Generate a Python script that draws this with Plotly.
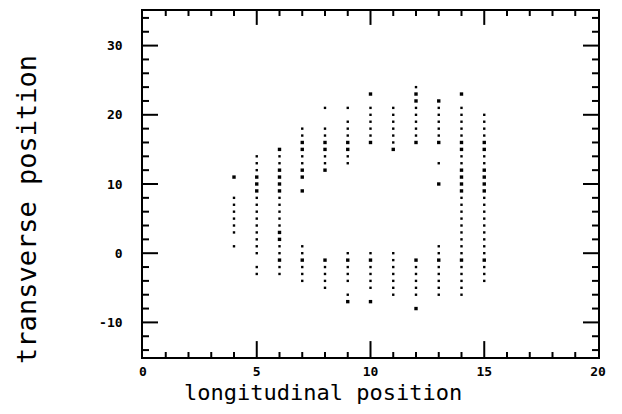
import plotly.graph_objects as go

# Longitudinal positions (columns) and the transverse positions recorded at each
col_x = [4, 5, 6, 7, 8, 9, 10, 11, 12, 13, 14, 15]
col_y = [
    [11, 8, 7, 6, 5, 4, 3, 1],
    [14, 13, 12, 11, 10, 9, 8, 7, 6, 5, 4, 3, 2, 1, 0, -2, -3],
    [15, 14, 13, 12, 11, 10, 9, 8, 7, 6, 5, 4, 3, 2, 1, 0, -1, -2, -3],
    [18, 17, 16, 15, 14, 13, 12, 11, 9, 1, 0, -1, -2, -3, -4],
    [21, 18, 17, 16, 15, 14, 13, 12, -1, -2, -3, -4, -5],
    [21, 19, 18, 17, 16, 15, 14, 13, 0, -1, -2, -3, -4, -6, -7],
    [23, 21, 20, 19, 18, 17, 16, 0, -1, -2, -3, -4, -5, -7],
    [21, 20, 19, 18, 17, 16, 15, 0, -1, -2, -3, -4, -5, -6],
    [24, 23, 22, 21, 20, 19, 18, 17, 16, -1, -2, -3, -4, -5, -6, -8],
    [22, 21, 20, 19, 18, 17, 16, 13, 10, 1, 0, -1, -2, -3, -4, -5, -6],
    [23, 21, 20, 19, 18, 17, 16, 15, 14, 13, 12, 11, 10, 9, 8, 7, 6, 5, 4, 3, 2, 1, 0,
     -1, -2, -3, -4, -5, -6],
    [20, 19, 18, 17, 16, 15, 14, 13, 12, 11, 10, 9, 8, 7, 6, 5, 4, 3, 2, 1, 0,
     -1, -2, -3, -4],
]
# Positions where several hits overlap (drawn as heavier marks)
heavy_y = [
    [11],
    [11, 10, 9],
    [15, 12, 11, 10, 9, 3, 2, -1],
    [16, 15, 12, 11, 9, -1],
    [16, 15, 12, -1],
    [16, 15, -1, -7],
    [23, 16, -1, -7],
    [15],
    [23, 22, 16, -1, -8],
    [22, 16, 10, -1],
    [23, 16, 15, 12, 11, 10, 9, -1],
    [16, 15, 12, 11, 10, 9, -1],
]

x_ticks = [0, 5, 10, 15, 20]
y_ticks = [-10, 0, 10, 20, 30]
x_minor = [v for v in range(1, 20) if v % 5]
y_minor = [v for v in range(-14, 35, 2) if v % 10]
x_range = [0, 20]
y_range = [-15, 35]

light_x, light_y, heavy_x, heavy_yy = [], [], [], []
for cx, ys, hs in zip(col_x, col_y, heavy_y):
    for y in ys:
        if y in hs:
            heavy_x.append(cx)
            heavy_yy.append(y)
        else:
            light_x.append(cx)
            light_y.append(y)

fig = go.Figure()
fig.add_trace(go.Scatter(x=light_x, y=light_y, mode="markers",
                         marker=dict(symbol="square", size=2.4, color="black",
                                     line=dict(width=0)),
                         showlegend=False, hoverinfo="skip"))
fig.add_trace(go.Scatter(x=heavy_x, y=heavy_yy, mode="markers",
                         marker=dict(symbol="square", size=3.4, color="black",
                                     line=dict(width=0)),
                         showlegend=False, hoverinfo="skip"))

tick_font = dict(family="DejaVu Sans Mono", size=13, color="black", weight="bold")

fig.update_layout(
    xaxis=dict(range=x_range, tickmode="array", tickvals=x_ticks,
               ticktext=[str(v) for v in x_ticks], ticks="",
               showline=True, linecolor="black", linewidth=1.6, mirror=True,
               showgrid=False, zeroline=False, tickfont=tick_font, ticklabelstandoff=2),
    yaxis=dict(range=y_range, tickmode="array", tickvals=y_ticks,
               ticktext=[str(v) for v in y_ticks], ticks="",
               showline=True, linecolor="black", linewidth=1.6, mirror=True,
               showgrid=False, zeroline=False, tickfont=tick_font, ticklabelstandoff=16),
)

# plot-area size in pixels (for converting tick lengths into axis units)
plot_w, plot_h = 455, 348
x_unit = (x_range[1] - x_range[0]) / plot_w
y_unit = (y_range[1] - y_range[0]) / plot_h

shapes = []
tick_line = dict(color="black", width=2)
# major ticks as lines in axis coordinates
for v in x_ticks[1:-1]:
    shapes.append(dict(type="line", xref="x", yref="y", x0=v, x1=v,
                       y0=y_range[0], y1=y_range[0] + 16 * y_unit, line=tick_line, layer="above"))
    shapes.append(dict(type="line", xref="x", yref="y", x0=v, x1=v,
                       y0=y_range[1], y1=y_range[1] - 14 * y_unit, line=tick_line, layer="above"))
for v in y_ticks:
    shapes.append(dict(type="line", xref="x", yref="y", y0=v, y1=v,
                       x0=x_range[0], x1=x_range[0] + 15 * x_unit, line=tick_line, layer="above"))
    shapes.append(dict(type="line", xref="x", yref="y", y0=v, y1=v,
                       x0=x_range[1], x1=x_range[1] - 15 * x_unit, line=tick_line, layer="above"))


# minor ticks as thin filled bars
def x_tick(v, anchor, length):
    return dict(type="rect", xref="x", xsizemode="pixel", xanchor=v, x0=-1, x1=1,
                yref="paper", ysizemode="pixel", yanchor=anchor, y0=0, y1=length,
                fillcolor="black", line=dict(width=0), layer="above")


def y_tick(v, anchor, length):
    return dict(type="rect", yref="y", ysizemode="pixel", yanchor=v, y0=-1, y1=1,
                xref="paper", xsizemode="pixel", xanchor=anchor, x0=0, x1=length,
                fillcolor="black", line=dict(width=0), layer="above")


for v in x_minor:
    shapes.append(x_tick(v, 0, 5))
    shapes.append(x_tick(v, 1, -5))
for v in y_minor:
    shapes.append(y_tick(v, 0, 6))
    shapes.append(y_tick(v, 1, -6))
fig.update_layout(shapes=shapes)

fig.add_annotation(text="longitudinal position", xref="paper", yref="paper",
                   x=0.396, y=-0.103, showarrow=False, xanchor="center", yanchor="middle",
                   font=dict(family="DejaVu Sans Mono", size=22, color="black"))
fig.add_annotation(text="transverse position", xref="paper", yref="paper",
                   x=-0.255, y=0.428, showarrow=False, xanchor="center", yanchor="middle",
                   textangle=-90, borderpad=0,
                   font=dict(family="DejaVu Sans Mono", size=27, color="black"))

fig.update_layout(width=614, height=406,
                  margin=dict(l=135, r=24, t=1, b=57),
                  paper_bgcolor="white", plot_bgcolor="white")

fig.write_html("out.html")
